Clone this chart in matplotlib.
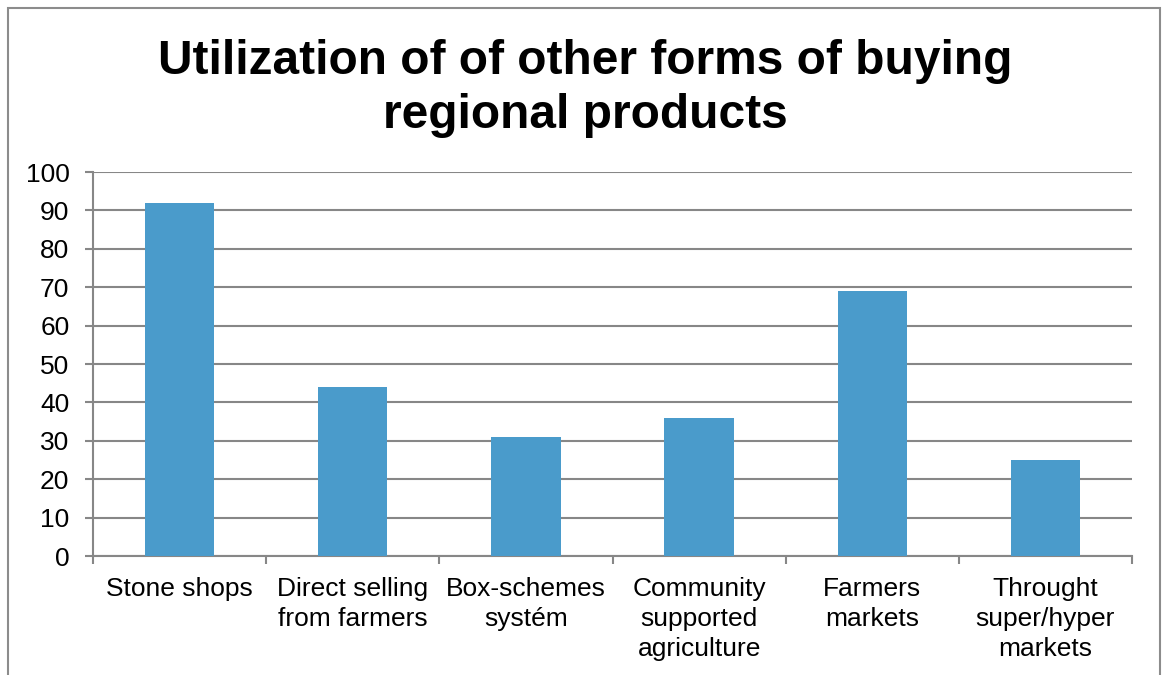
"""
Bar chart: utilization of other forms of buying regional products.
"""
import matplotlib.pyplot as plt
from matplotlib.patches import Rectangle

plt.rcParams['font.family'] = ['Liberation Sans', 'DejaVu Sans']

categories = ["Stone shops", "Direct selling\nfrom farmers", "Box-schemes\nsystém",
              "Community\nsupported\nagriculture", "Farmers\nmarkets",
              "Throught\nsuper/hyper\nmarkets"]
values = [92, 44, 31, 36, 69, 25]
yticks = list(range(0, 101, 10))

bar_color = "#4A9BCB"
grid_color = "#878787"

fig = plt.figure(figsize=(11.63, 6.75), dpi=100)
ax = fig.add_axes([93 / 1163, 1 - 556 / 675, (1132 - 93) / 1163, (556 - 172) / 675])

x = list(range(len(categories)))
ax.bar(x, values, width=0.4, color=bar_color, zorder=3)

ax.set_xlim(-0.5, len(categories) - 0.5)
ax.set_ylim(0, 100)
ax.set_yticks(yticks)
ax.yaxis.grid(True, color=grid_color, linewidth=1.5, zorder=0)

# category labels between boundary ticks
ax.set_xticks(x)
ax.set_xticklabels(categories, fontsize=19, linespacing=1.32)
ax.tick_params(axis="x", length=0, pad=15)
ax.set_xticks([i - 0.5 for i in range(len(categories) + 1)], minor=True)
ax.tick_params(axis="x", which="minor", length=6, width=1.5, color=grid_color)
ax.tick_params(axis="y", length=6, width=1.5, color=grid_color, labelsize=19, pad=11)

for side in ["top", "right"]:
    ax.spines[side].set_visible(False)
for side in ["left", "bottom"]:
    ax.spines[side].set_color(grid_color)
    ax.spines[side].set_linewidth(1.5)

fig.text(585 / 1163, 1 - 39 / 675, "Utilization of of other forms of buying\nregional products",
         ha="center", va="top", fontsize=34.5, fontweight="bold", linespacing=1.26)

# frame around the chart area, open at the bottom
fig.patches.append(Rectangle((8 / 1163, -0.1), (1160 - 8) / 1163, 1.1 - 8 / 675,
                             transform=fig.transFigure, fill=False,
                             edgecolor="#8C8C8C", linewidth=1.5))

fig.savefig("out.png", dpi=100)
